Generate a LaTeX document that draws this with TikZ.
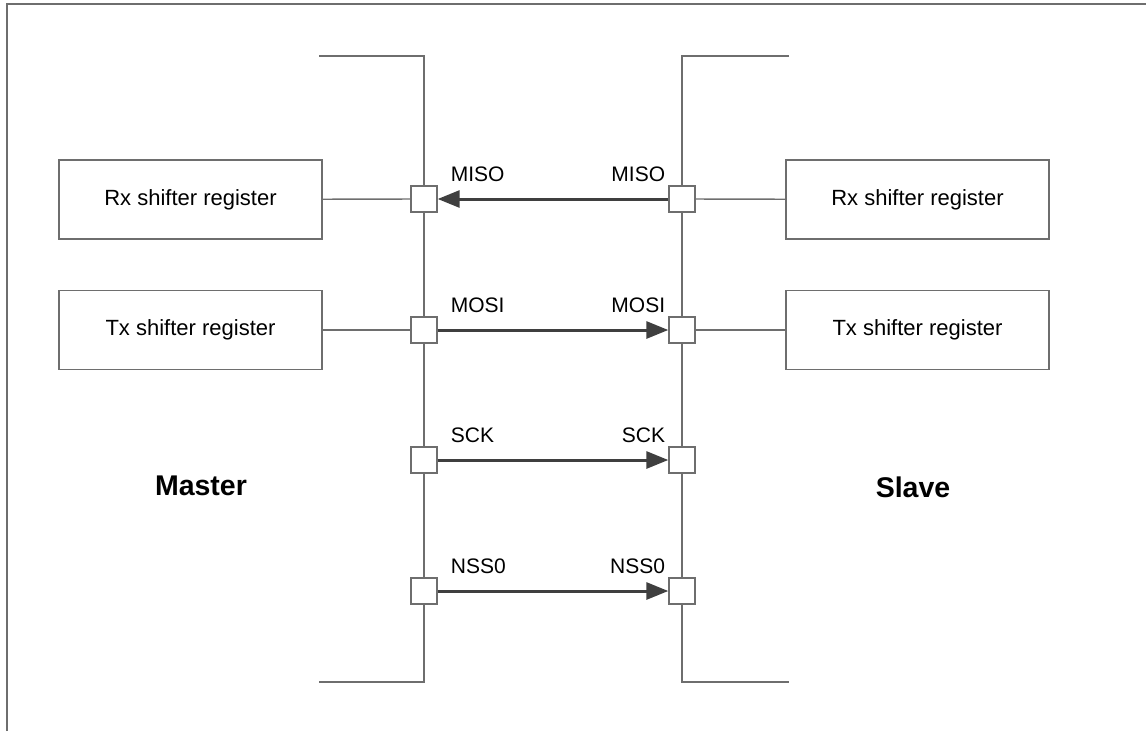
\documentclass[tikz,border=0pt]{standalone}
\usepackage{fontspec}
\setmainfont{Liberation Sans}
\usepackage{xcolor}
\usetikzlibrary{arrows.meta,positioning}
\definecolor{wire}{HTML}{6E6E6E}
\definecolor{sigcol}{HTML}{3F3F3F}

\begin{document}
\begin{tikzpicture}[x=1pt, y=-1pt,
    regbox/.style={draw=wire, line width=1.4pt, minimum width=263pt, minimum height=79pt,
      inner sep=0pt, font=\fontsize{22}{26}\selectfont},
    port/.style={draw=wire, fill=white, line width=1.4pt, minimum size=26pt, inner sep=0pt},
    sig/.style={draw=sigcol, line width=3pt, -{Triangle[length=22pt, width=17pt]}},
    pinlbl/.style={inner sep=0pt, font=\fontsize{21}{25}\selectfont},
    side/.style={font=\fontsize{28.5}{33}\selectfont\bfseries}]
\useasboundingbox (0,0) rectangle (1146,731);

% Frame (cut off at right and bottom)
\coordinate (fl) at (7,731);
\coordinate (fc) at (7,4);
\coordinate (fr) at (1146,4);
\draw[wire, line width=2pt] (fl) -- (fc) -- (fr);

% Bus corners
\coordinate (mtop) at (319,56);
\coordinate (mbus) at (424,56);
\coordinate (mbot) at (424,682);
\coordinate (mend) at (319,682);
\coordinate (stop) at (789,56);
\coordinate (sbus) at (682,56);
\coordinate (sbot) at (682,682);
\coordinate (send) at (789,682);

% Draw buses
\draw[wire, line width=1.4pt] (mtop) -- (mbus) -- (mbot) -- (mend);
\draw[wire, line width=1.4pt] (stop) -- (sbus) -- (sbot) -- (send);

% Shift registers
\node[regbox] (mrx) at (190.5,199.5) {Rx shifter register};
\node[regbox] (mtx) at (190.5,330) {Tx shifter register};
\node[regbox] (srx) at (917.5,199.5) {Rx shifter register};
\node[regbox] (stx) at (917.5,330) {Tx shifter register};

% Ports
\node[port] (mmiso) at (424,199) {};
\node[port] (mmosi) at (424,330) {};
\node[port] (msck) at (424,460) {};
\node[port] (mnss) at (424,591) {};
\node[port] (smiso) at (682,199) {};
\node[port] (smosi) at (682,330) {};
\node[port] (ssck) at (682,460) {};
\node[port] (snss) at (682,591) {};

% Register links
\draw[wire, line width=1.4pt] (mrx) -- (mmiso);
\draw[wire, line width=1.4pt] (mtx) -- (mmosi);
\draw[wire, line width=1.4pt] (smiso) -- (srx);
\draw[wire, line width=1.4pt] (smosi) -- (stx);

% Signals
\draw[sig] (smiso.west) -- (mmiso.east);
\draw[sig] (mmosi.east) -- (smosi.west);
\draw[sig] (msck.east) -- (ssck.west);
\draw[sig] (mnss.east) -- (snss.west);

% Pin labels
\node[pinlbl, anchor=base west] (lmiso) at ([xshift=13pt,yshift=4pt]mmiso.north east) {MISO};
\node[pinlbl, anchor=base west] (lmosi) at ([xshift=13pt,yshift=4pt]mmosi.north east) {MOSI};
\node[pinlbl, anchor=base west] (lsck) at ([xshift=13pt,yshift=4pt]msck.north east) {SCK};
\node[pinlbl, anchor=base west] (lnss) at ([xshift=13pt,yshift=4pt]mnss.north east) {NSS0};
\node[pinlbl, anchor=base east] (rmiso) at ([xshift=-3pt,yshift=4pt]smiso.north west) {MISO};
\node[pinlbl, anchor=base east] (rmosi) at ([xshift=-3pt,yshift=4pt]smosi.north west) {MOSI};
\node[pinlbl, anchor=base east] (rsck) at ([xshift=-3pt,yshift=4pt]ssck.north west) {SCK};
\node[pinlbl, anchor=base east] (rnss) at ([xshift=-3pt,yshift=4pt]snss.north west) {NSS0};

% Sides
\node[side] (master) at (201,486) {Master};
\node[side] (slave) at (913,487) {Slave};

\end{tikzpicture}
\end{document}
